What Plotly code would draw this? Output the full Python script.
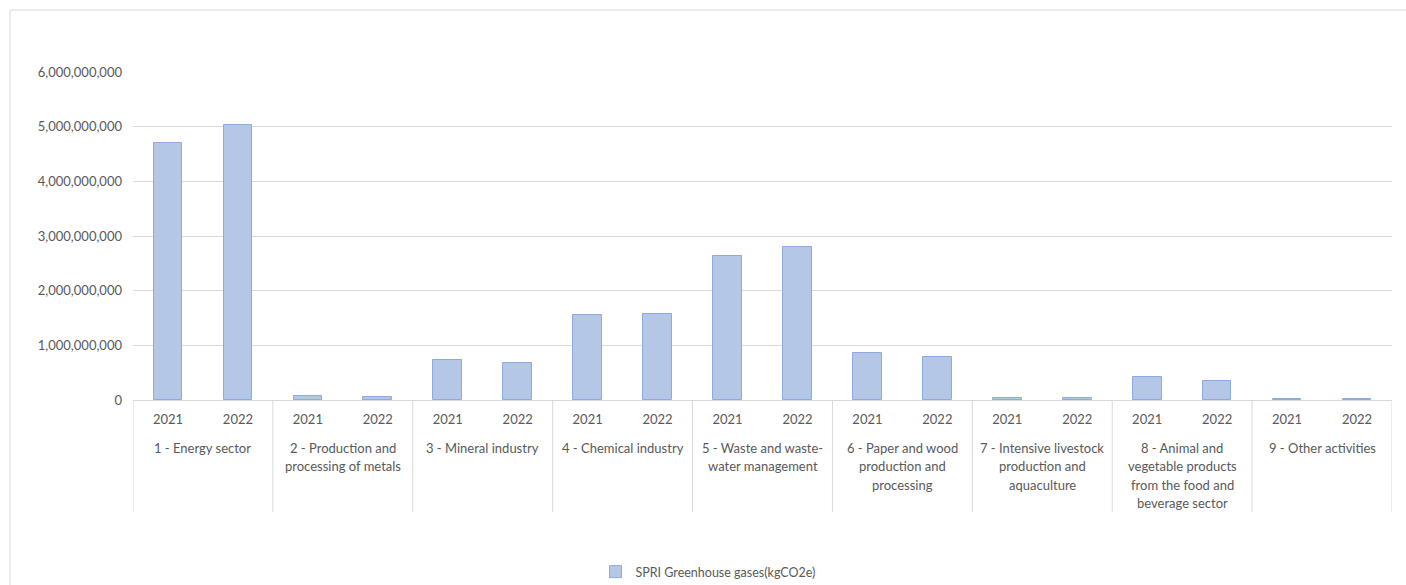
import plotly.graph_objects as go

categories = [
    "1 - Energy sector",
    "2 - Production and<br>processing of metals",
    "3 - Mineral industry",
    "4 - Chemical industry",
    "5 - Waste and waste-<br>water management",
    "6 - Paper and wood<br>production and<br>processing",
    "7 - Intensive livestock<br>production and<br>aquaculture",
    "8 - Animal and<br>vegetable products<br>from the food and<br>beverage sector",
    "9 - Other activities",
]
years = ["2021", "2022"]
values_2021 = [4.70e9, 0.073e9, 0.73e9, 1.555e9, 2.63e9, 0.86e9, 0.03e9, 0.42e9, 0.015e9]
values_2022 = [5.03e9, 0.055e9, 0.68e9, 1.57e9, 2.80e9, 0.79e9, 0.03e9, 0.35e9, 0.015e9]
y_ticks = [0, 1e9, 2e9, 3e9, 4e9, 5e9, 6e9]
series_name = "SPRI Greenhouse gases(kgCO2e)"

xs, ys, tick_text = [], [], []
for i in range(len(categories)):
    for j, vals in enumerate([values_2021, values_2022]):
        xs.append(2 * i + j)
        ys.append(vals[i])
        tick_text.append(years[j])

grey_text = "#595959"
line_col = "#d9d9d9"
font_family = "Lato, Carlito, Calibri, sans-serif"

fig = go.Figure()
fig.add_trace(go.Bar(
    x=xs, y=ys, name=series_name, width=0.41,
    marker=dict(color="#b4c7e7", line=dict(color="#8faadc", width=1)),
    showlegend=True,
))

W, H = 1406, 585
ml, mr, mt, mb = 133, 14, 72, 185
plot_w = W - ml - mr
plot_h = H - mt - mb

def px_to_paper_y(py):
    return (H - mb - py) / plot_h

def px_to_paper_x(px):
    return (px - ml) / plot_w

shapes = []
# outer chart frame
shapes.append(dict(type="rect", xref="paper", yref="paper",
                   x0=px_to_paper_x(10), x1=px_to_paper_x(1420),
                   y0=px_to_paper_y(600), y1=px_to_paper_y(10),
                   line=dict(color="#d9d9d9", width=1), layer="below"))
# category dividers
n = len(categories)
for k in range(n + 1):
    shapes.append(dict(type="line", xref="x", yref="paper",
                       x0=2 * k - 0.5, x1=2 * k - 0.5,
                       y0=0, y1=px_to_paper_y(512),
                       line=dict(color=line_col, width=1)))

annotations = []
first_line_px, line_step = 448, 18.5
for i, c in enumerate(categories):
    for k, line in enumerate(c.split("<br>")):
        annotations.append(dict(x=2 * i + 0.5, xref="x",
                                y=px_to_paper_y(first_line_px + line_step * k), yref="paper",
                                text=line, showarrow=False, yanchor="middle", xanchor="center",
                                font=dict(family=font_family, size=13, color=grey_text)))

fig.update_layout(
    width=W, height=H,
    margin=dict(l=ml, r=mr, t=mt, b=mb, autoexpand=False),
    paper_bgcolor="white", plot_bgcolor="white",
    font=dict(family=font_family, size=13, color=grey_text),
    shapes=shapes, annotations=annotations,
    bargap=0,
    legend=dict(orientation="h", x=px_to_paper_x(708), xanchor="center",
                y=px_to_paper_y(572), yanchor="middle",
                font=dict(family=font_family, size=12.5, color=grey_text),
                itemwidth=30, bgcolor="rgba(0,0,0,0)"),
)
fig.update_xaxes(
    range=[-0.5, 2 * n - 0.5], tickvals=xs, ticktext=tick_text,
    showgrid=False, zeroline=False, showline=False, ticks="",
    tickfont=dict(family=font_family, size=13, color=grey_text),
    ticklabelstandoff=10,
)
fig.update_yaxes(
    range=[0, 6e9], tickvals=y_ticks, tickformat=",d",
    showgrid=True, gridcolor=line_col, gridwidth=1,
    zeroline=True, zerolinecolor=line_col, zerolinewidth=1,
    showline=False, ticks="",
    tickfont=dict(family=font_family, size=13, color=grey_text),
    ticklabelstandoff=10,
)

fig.write_html("out.html")
